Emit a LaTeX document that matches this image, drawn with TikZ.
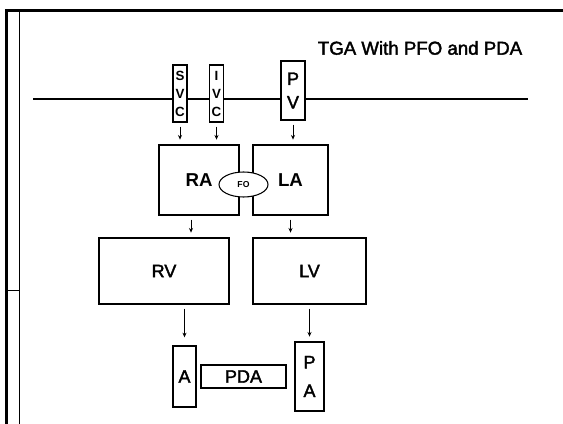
\documentclass[tikz,border=0pt]{standalone}
\usepackage{fontspec}
\setmainfont{Liberation Sans}
\newfontfamily\heavysans[FakeBold=2]{Liberation Sans}
\usetikzlibrary{arrows.meta,shapes.geometric}
\tikzset{
  chamber/.style={draw, fill=white, line width=0.8pt, inner sep=0pt, outer sep=0pt,
                  align=center, font=\heavysans\fontsize{13.5}{16}\selectfont},
  atrium/.style={chamber, font=\bfseries\fontsize{14}{16}\selectfont},
  boxsize/.style 2 args={minimum width=#1*0.75pt, minimum height=#2*0.75pt},
  vein/.style={chamber, font=\bfseries\fontsize{10}{13.5}\selectfont},
  tall/.style={chamber, font=\heavysans\fontsize{13.5}{17.6}\selectfont},
  foramen/.style={ellipse, draw, fill=white, line width=0.8pt, inner sep=0pt,
                  font=\bfseries\fontsize{6.5}{7}\selectfont},
  flow/.style={-{Stealth[length=3.5pt,width=3pt]}, line width=0.6pt,
               shorten <=3.5pt, shorten >=4pt},
  heading/.style={font=\heavysans\fontsize{14}{16}\selectfont, inner sep=0pt}
}

\begin{document}
\begin{tikzpicture}[x=0.75pt, y=-0.75pt]
\useasboundingbox (0,0) rectangle (563,424);
% page frame
\draw[line width=2.25pt] (6,9.5) -- (6,424);
\draw[line width=2.25pt] (4.9,11) -- (563,11);
\draw[line width=0.75pt] (19,12) -- (19,424);
\draw[line width=0.6pt] (6,290) -- (19,290);

\node[heading] (ttl) at (420,48) {TGA With PFO and PDA};

% venous return line
\coordinate (lstart) at (33,99);
\coordinate (lend) at (528,99);
\draw[line width=0.8pt] (lstart) -- (lend);

\node[vein, boxsize={14}{57}] (svc) at (180,93.5) {S\\V\\C};
\node[vein, boxsize={14}{57}] (ivc) at (216.5,93.5) {I\\V\\C};
\node[tall, boxsize={24}{59}] (pv) at (293,90.5) {P\\V};

\node[atrium, boxsize={80}{70}] (ra) at (199,180) {RA};
\node[atrium, boxsize={75}{70}] (la) at (290.5,180) {LA};
\node[foramen, minimum width=49*0.75pt, minimum height=25*0.75pt] (fo) at (243.5,184.5) {FO};

\node[chamber, boxsize={130}{66}] (rv) at (164,271) {RV};
\node[chamber, boxsize={113}{66}] (lv) at (309.5,271) {LV};

\node[chamber, boxsize={23}{61}] (ao) at (184.5,376.5) {A};
\node[chamber, boxsize={85}{23}] (pda) at (243.5,376.5) {PDA};
\node[chamber, boxsize={29}{69}, font=\heavysans\fontsize{13.5}{21.5}\selectfont] (pa) at (309.5,376.5) {P\\A};

\draw[flow] (svc.south) -- (svc.south |- ra.north);
\draw[flow] (ivc.south) -- (ivc.south |- ra.north);
\draw[flow] (pv.south) -- (pv.south |- la.north);
\draw[flow] ([xshift=-6pt]ra.south) -- ([xshift=-6pt]ra.south |- rv.north);
\draw[flow] (la.south) -- (la.south |- lv.north);
\draw[flow, shorten >=6.5pt] (ao.north |- rv.south) -- (ao.north);
\draw[flow] (pa.north |- lv.south) -- (pa.north);
\end{tikzpicture}
\end{document}
